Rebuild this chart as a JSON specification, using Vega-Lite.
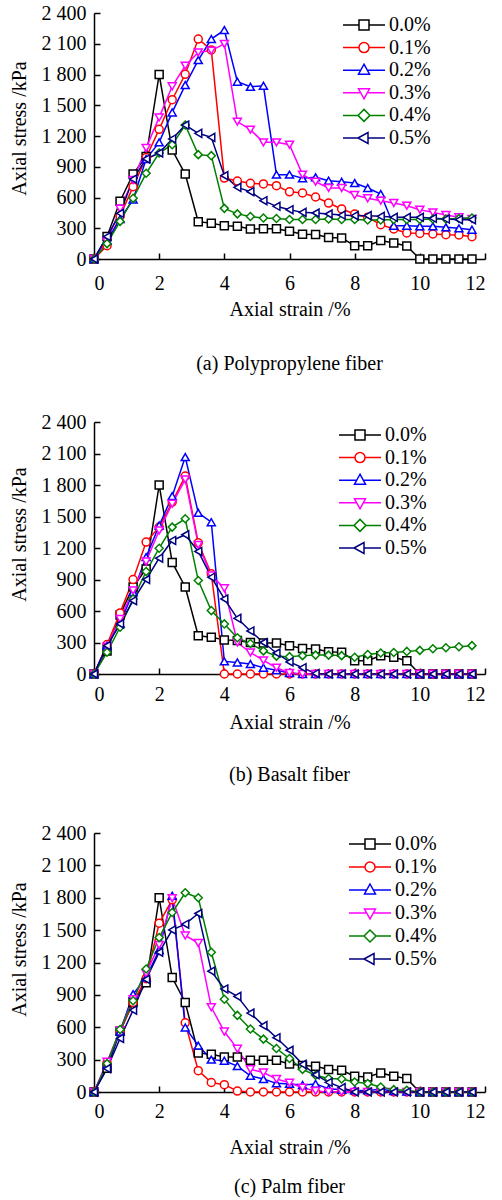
{
"$schema": "https://vega.github.io/schema/vega-lite/v6.json",
"padding": {"left": 9, "top": 3, "right": 2, "bottom": 5},
"config": {
  "font": "Liberation Serif",
  "view": {"stroke": null},
  "axis": {"labelFont": "Liberation Serif", "titleFont": "Liberation Serif", "labelFontSize": 20, "titleFontSize": 20, "titleFontWeight": "normal", "labelColor": "black", "titleColor": "black", "domainColor": "black", "tickColor": "black", "domainWidth": 1.5, "tickWidth": 1.5, "grid": false, "tickSize": -6, "labelPadding": 14},
  "legend": {"labelFont": "Liberation Serif", "labelFontSize": 20, "labelColor": "black", "labelOffset": 15, "symbolSize": 100, "symbolStrokeWidth": 1.5, "symbolFillColor": "white", "rowPadding": 2.6},
  "title": {"font": "Liberation Serif", "fontSize": 20, "fontWeight": "normal", "color": "black"}
},
"data": {"values": [
{"p":"a","c":"0.0%","x":0,"y":0},{"p":"a","c":"0.0%","x":0.4,"y":220},{"p":"a","c":"0.0%","x":0.8,"y":563},{"p":"a","c":"0.0%","x":1.2,"y":829},{"p":"a","c":"0.0%","x":1.6,"y":1000},{"p":"a","c":"0.0%","x":2,"y":1800},{"p":"a","c":"0.0%","x":2.4,"y":1063},{"p":"a","c":"0.0%","x":2.8,"y":829},{"p":"a","c":"0.0%","x":3.2,"y":364},{"p":"a","c":"0.0%","x":3.6,"y":350},{"p":"a","c":"0.0%","x":4,"y":325},{"p":"a","c":"0.0%","x":4.4,"y":320},{"p":"a","c":"0.0%","x":4.8,"y":293},{"p":"a","c":"0.0%","x":5.2,"y":295},{"p":"a","c":"0.0%","x":5.6,"y":295},{"p":"a","c":"0.0%","x":6,"y":270},{"p":"a","c":"0.0%","x":6.4,"y":242},{"p":"a","c":"0.0%","x":6.8,"y":238},{"p":"a","c":"0.0%","x":7.2,"y":210},{"p":"a","c":"0.0%","x":7.6,"y":206},{"p":"a","c":"0.0%","x":8,"y":130},{"p":"a","c":"0.0%","x":8.4,"y":130},{"p":"a","c":"0.0%","x":8.8,"y":180},{"p":"a","c":"0.0%","x":9.2,"y":157},{"p":"a","c":"0.0%","x":9.6,"y":127},{"p":"a","c":"0.0%","x":10,"y":0},{"p":"a","c":"0.0%","x":10.4,"y":0},{"p":"a","c":"0.0%","x":10.8,"y":0},{"p":"a","c":"0.0%","x":11.2,"y":0},{"p":"a","c":"0.0%","x":11.6,"y":0},
{"p":"a","c":"0.1%","x":0,"y":0},{"p":"a","c":"0.1%","x":0.4,"y":130},{"p":"a","c":"0.1%","x":0.8,"y":420},{"p":"a","c":"0.1%","x":1.2,"y":706},{"p":"a","c":"0.1%","x":1.6,"y":990},{"p":"a","c":"0.1%","x":2,"y":1265},{"p":"a","c":"0.1%","x":2.4,"y":1554},{"p":"a","c":"0.1%","x":2.8,"y":1802},{"p":"a","c":"0.1%","x":3.2,"y":2146},{"p":"a","c":"0.1%","x":3.6,"y":2040},{"p":"a","c":"0.1%","x":4,"y":790},{"p":"a","c":"0.1%","x":4.4,"y":760},{"p":"a","c":"0.1%","x":4.8,"y":738},{"p":"a","c":"0.1%","x":5.2,"y":732},{"p":"a","c":"0.1%","x":5.6,"y":715},{"p":"a","c":"0.1%","x":6,"y":655},{"p":"a","c":"0.1%","x":6.4,"y":644},{"p":"a","c":"0.1%","x":6.8,"y":605},{"p":"a","c":"0.1%","x":7.2,"y":546},{"p":"a","c":"0.1%","x":7.6,"y":488},{"p":"a","c":"0.1%","x":8,"y":439},{"p":"a","c":"0.1%","x":8.4,"y":407},{"p":"a","c":"0.1%","x":8.8,"y":335},{"p":"a","c":"0.1%","x":9.2,"y":293},{"p":"a","c":"0.1%","x":9.6,"y":254},{"p":"a","c":"0.1%","x":10,"y":250},{"p":"a","c":"0.1%","x":10.4,"y":244},{"p":"a","c":"0.1%","x":10.8,"y":237},{"p":"a","c":"0.1%","x":11.2,"y":234},{"p":"a","c":"0.1%","x":11.6,"y":218},
{"p":"a","c":"0.2%","x":0,"y":0},{"p":"a","c":"0.2%","x":0.4,"y":180},{"p":"a","c":"0.2%","x":0.8,"y":390},{"p":"a","c":"0.2%","x":1.2,"y":580},{"p":"a","c":"0.2%","x":1.6,"y":975},{"p":"a","c":"0.2%","x":2,"y":1138},{"p":"a","c":"0.2%","x":2.4,"y":1430},{"p":"a","c":"0.2%","x":2.8,"y":1697},{"p":"a","c":"0.2%","x":3.2,"y":1941},{"p":"a","c":"0.2%","x":3.6,"y":2146},{"p":"a","c":"0.2%","x":4,"y":2234},{"p":"a","c":"0.2%","x":4.4,"y":1730},{"p":"a","c":"0.2%","x":4.8,"y":1680},{"p":"a","c":"0.2%","x":5.2,"y":1690},{"p":"a","c":"0.2%","x":5.6,"y":823},{"p":"a","c":"0.2%","x":6,"y":823},{"p":"a","c":"0.2%","x":6.4,"y":787},{"p":"a","c":"0.2%","x":6.8,"y":797},{"p":"a","c":"0.2%","x":7.2,"y":764},{"p":"a","c":"0.2%","x":7.6,"y":754},{"p":"a","c":"0.2%","x":8,"y":741},{"p":"a","c":"0.2%","x":8.4,"y":693},{"p":"a","c":"0.2%","x":8.8,"y":634},{"p":"a","c":"0.2%","x":9.2,"y":325},{"p":"a","c":"0.2%","x":9.6,"y":325},{"p":"a","c":"0.2%","x":10,"y":319},{"p":"a","c":"0.2%","x":10.4,"y":319},{"p":"a","c":"0.2%","x":10.8,"y":309},{"p":"a","c":"0.2%","x":11.2,"y":299},{"p":"a","c":"0.2%","x":11.6,"y":286},
{"p":"a","c":"0.3%","x":0,"y":0},{"p":"a","c":"0.3%","x":0.4,"y":170},{"p":"a","c":"0.3%","x":0.8,"y":490},{"p":"a","c":"0.3%","x":1.2,"y":770},{"p":"a","c":"0.3%","x":1.6,"y":1083},{"p":"a","c":"0.3%","x":2,"y":1382},{"p":"a","c":"0.3%","x":2.4,"y":1685},{"p":"a","c":"0.3%","x":2.8,"y":1886},{"p":"a","c":"0.3%","x":3.2,"y":2016},{"p":"a","c":"0.3%","x":3.6,"y":2033},{"p":"a","c":"0.3%","x":4,"y":2098},{"p":"a","c":"0.3%","x":4.4,"y":1340},{"p":"a","c":"0.3%","x":4.8,"y":1262},{"p":"a","c":"0.3%","x":5.2,"y":1138},{"p":"a","c":"0.3%","x":5.6,"y":1138},{"p":"a","c":"0.3%","x":6,"y":1115},{"p":"a","c":"0.3%","x":6.4,"y":823},{"p":"a","c":"0.3%","x":6.8,"y":754},{"p":"a","c":"0.3%","x":7.2,"y":693},{"p":"a","c":"0.3%","x":7.6,"y":693},{"p":"a","c":"0.3%","x":8,"y":624},{"p":"a","c":"0.3%","x":8.4,"y":592},{"p":"a","c":"0.3%","x":8.8,"y":569},{"p":"a","c":"0.3%","x":9.2,"y":546},{"p":"a","c":"0.3%","x":9.6,"y":520},{"p":"a","c":"0.3%","x":10,"y":481},{"p":"a","c":"0.3%","x":10.4,"y":455},{"p":"a","c":"0.3%","x":10.8,"y":429},{"p":"a","c":"0.3%","x":11.2,"y":407},{"p":"a","c":"0.3%","x":11.6,"y":390},
{"p":"a","c":"0.4%","x":0,"y":0},{"p":"a","c":"0.4%","x":0.4,"y":150},{"p":"a","c":"0.4%","x":0.8,"y":367},{"p":"a","c":"0.4%","x":1.2,"y":592},{"p":"a","c":"0.4%","x":1.6,"y":836},{"p":"a","c":"0.4%","x":2,"y":1034},{"p":"a","c":"0.4%","x":2.4,"y":1115},{"p":"a","c":"0.4%","x":2.8,"y":1307},{"p":"a","c":"0.4%","x":3.2,"y":1018},{"p":"a","c":"0.4%","x":3.6,"y":1008},{"p":"a","c":"0.4%","x":4,"y":494},{"p":"a","c":"0.4%","x":4.4,"y":440},{"p":"a","c":"0.4%","x":4.8,"y":415},{"p":"a","c":"0.4%","x":5.2,"y":400},{"p":"a","c":"0.4%","x":5.6,"y":395},{"p":"a","c":"0.4%","x":6,"y":385},{"p":"a","c":"0.4%","x":6.4,"y":385},{"p":"a","c":"0.4%","x":6.8,"y":385},{"p":"a","c":"0.4%","x":7.2,"y":390},{"p":"a","c":"0.4%","x":7.6,"y":385},{"p":"a","c":"0.4%","x":8,"y":385},{"p":"a","c":"0.4%","x":8.4,"y":380},{"p":"a","c":"0.4%","x":8.8,"y":380},{"p":"a","c":"0.4%","x":9.2,"y":385},{"p":"a","c":"0.4%","x":9.6,"y":385},{"p":"a","c":"0.4%","x":10,"y":385},{"p":"a","c":"0.4%","x":10.4,"y":390},{"p":"a","c":"0.4%","x":10.8,"y":390},{"p":"a","c":"0.4%","x":11.2,"y":395},{"p":"a","c":"0.4%","x":11.6,"y":400},
{"p":"a","c":"0.5%","x":0,"y":0},{"p":"a","c":"0.5%","x":0.4,"y":218},{"p":"a","c":"0.5%","x":0.8,"y":446},{"p":"a","c":"0.5%","x":1.2,"y":780},{"p":"a","c":"0.5%","x":1.6,"y":976},{"p":"a","c":"0.5%","x":2,"y":1034},{"p":"a","c":"0.5%","x":2.4,"y":1171},{"p":"a","c":"0.5%","x":2.8,"y":1307},{"p":"a","c":"0.5%","x":3.2,"y":1226},{"p":"a","c":"0.5%","x":3.6,"y":1187},{"p":"a","c":"0.5%","x":4,"y":813},{"p":"a","c":"0.5%","x":4.4,"y":699},{"p":"a","c":"0.5%","x":4.8,"y":657},{"p":"a","c":"0.5%","x":5.2,"y":569},{"p":"a","c":"0.5%","x":5.6,"y":514},{"p":"a","c":"0.5%","x":6,"y":481},{"p":"a","c":"0.5%","x":6.4,"y":455},{"p":"a","c":"0.5%","x":6.8,"y":449},{"p":"a","c":"0.5%","x":7.2,"y":439},{"p":"a","c":"0.5%","x":7.6,"y":429},{"p":"a","c":"0.5%","x":8,"y":423},{"p":"a","c":"0.5%","x":8.4,"y":423},{"p":"a","c":"0.5%","x":8.8,"y":416},{"p":"a","c":"0.5%","x":9.2,"y":407},{"p":"a","c":"0.5%","x":9.6,"y":407},{"p":"a","c":"0.5%","x":10,"y":407},{"p":"a","c":"0.5%","x":10.4,"y":397},{"p":"a","c":"0.5%","x":10.8,"y":390},{"p":"a","c":"0.5%","x":11.2,"y":384},{"p":"a","c":"0.5%","x":11.6,"y":384},
{"p":"b","c":"0.0%","x":0,"y":0},{"p":"b","c":"0.0%","x":0.4,"y":220},{"p":"b","c":"0.0%","x":0.8,"y":563},{"p":"b","c":"0.0%","x":1.2,"y":829},{"p":"b","c":"0.0%","x":1.6,"y":1000},{"p":"b","c":"0.0%","x":2,"y":1800},{"p":"b","c":"0.0%","x":2.4,"y":1063},{"p":"b","c":"0.0%","x":2.8,"y":829},{"p":"b","c":"0.0%","x":3.2,"y":364},{"p":"b","c":"0.0%","x":3.6,"y":350},{"p":"b","c":"0.0%","x":4,"y":325},{"p":"b","c":"0.0%","x":4.4,"y":320},{"p":"b","c":"0.0%","x":4.8,"y":300},{"p":"b","c":"0.0%","x":5.2,"y":295},{"p":"b","c":"0.0%","x":5.6,"y":295},{"p":"b","c":"0.0%","x":6,"y":270},{"p":"b","c":"0.0%","x":6.4,"y":244},{"p":"b","c":"0.0%","x":6.8,"y":238},{"p":"b","c":"0.0%","x":7.2,"y":213},{"p":"b","c":"0.0%","x":7.6,"y":206},{"p":"b","c":"0.0%","x":8,"y":127},{"p":"b","c":"0.0%","x":8.4,"y":127},{"p":"b","c":"0.0%","x":8.8,"y":175},{"p":"b","c":"0.0%","x":9.2,"y":159},{"p":"b","c":"0.0%","x":9.6,"y":127},{"p":"b","c":"0.0%","x":10,"y":0},{"p":"b","c":"0.0%","x":10.4,"y":0},{"p":"b","c":"0.0%","x":10.8,"y":0},{"p":"b","c":"0.0%","x":11.2,"y":0},{"p":"b","c":"0.0%","x":11.6,"y":0},
{"p":"b","c":"0.1%","x":0,"y":0},{"p":"b","c":"0.1%","x":0.4,"y":280},{"p":"b","c":"0.1%","x":0.8,"y":582},{"p":"b","c":"0.1%","x":1.2,"y":900},{"p":"b","c":"0.1%","x":1.6,"y":1256},{"p":"b","c":"0.1%","x":2,"y":1399},{"p":"b","c":"0.1%","x":2.4,"y":1637},{"p":"b","c":"0.1%","x":2.8,"y":1885},{"p":"b","c":"0.1%","x":3.2,"y":1249},{"p":"b","c":"0.1%","x":3.6,"y":954},{"p":"b","c":"0.1%","x":4,"y":0},{"p":"b","c":"0.1%","x":4.4,"y":0},{"p":"b","c":"0.1%","x":4.8,"y":0},{"p":"b","c":"0.1%","x":5.2,"y":0},{"p":"b","c":"0.1%","x":5.6,"y":0},{"p":"b","c":"0.1%","x":6,"y":0},{"p":"b","c":"0.1%","x":6.4,"y":0},{"p":"b","c":"0.1%","x":6.8,"y":0},{"p":"b","c":"0.1%","x":7.2,"y":0},{"p":"b","c":"0.1%","x":7.6,"y":0},{"p":"b","c":"0.1%","x":8,"y":0},{"p":"b","c":"0.1%","x":8.4,"y":0},{"p":"b","c":"0.1%","x":8.8,"y":0},{"p":"b","c":"0.1%","x":9.2,"y":0},{"p":"b","c":"0.1%","x":9.6,"y":0},{"p":"b","c":"0.1%","x":10,"y":0},{"p":"b","c":"0.1%","x":10.4,"y":0},{"p":"b","c":"0.1%","x":10.8,"y":0},{"p":"b","c":"0.1%","x":11.2,"y":0},{"p":"b","c":"0.1%","x":11.6,"y":0},
{"p":"b","c":"0.2%","x":0,"y":0},{"p":"b","c":"0.2%","x":0.4,"y":270},{"p":"b","c":"0.2%","x":0.8,"y":480},{"p":"b","c":"0.2%","x":1.2,"y":780},{"p":"b","c":"0.2%","x":1.6,"y":1113},{"p":"b","c":"0.2%","x":2,"y":1415},{"p":"b","c":"0.2%","x":2.4,"y":1694},{"p":"b","c":"0.2%","x":2.8,"y":2066},{"p":"b","c":"0.2%","x":3.2,"y":1535},{"p":"b","c":"0.2%","x":3.6,"y":1446},{"p":"b","c":"0.2%","x":4,"y":120},{"p":"b","c":"0.2%","x":4.4,"y":110},{"p":"b","c":"0.2%","x":4.8,"y":95},{"p":"b","c":"0.2%","x":5.2,"y":60},{"p":"b","c":"0.2%","x":5.6,"y":35},{"p":"b","c":"0.2%","x":6,"y":10},{"p":"b","c":"0.2%","x":6.4,"y":0},{"p":"b","c":"0.2%","x":6.8,"y":0},{"p":"b","c":"0.2%","x":7.2,"y":0},{"p":"b","c":"0.2%","x":7.6,"y":0},{"p":"b","c":"0.2%","x":8,"y":0},{"p":"b","c":"0.2%","x":8.4,"y":0},{"p":"b","c":"0.2%","x":8.8,"y":0},{"p":"b","c":"0.2%","x":9.2,"y":0},{"p":"b","c":"0.2%","x":9.6,"y":0},{"p":"b","c":"0.2%","x":10,"y":0},{"p":"b","c":"0.2%","x":10.4,"y":0},{"p":"b","c":"0.2%","x":10.8,"y":0},{"p":"b","c":"0.2%","x":11.2,"y":0},{"p":"b","c":"0.2%","x":11.6,"y":0},
{"p":"b","c":"0.3%","x":0,"y":0},{"p":"b","c":"0.3%","x":0.4,"y":260},{"p":"b","c":"0.3%","x":0.8,"y":525},{"p":"b","c":"0.3%","x":1.2,"y":795},{"p":"b","c":"0.3%","x":1.6,"y":1071},{"p":"b","c":"0.3%","x":2,"y":1367},{"p":"b","c":"0.3%","x":2.4,"y":1621},{"p":"b","c":"0.3%","x":2.8,"y":1853},{"p":"b","c":"0.3%","x":3.2,"y":1230},{"p":"b","c":"0.3%","x":3.6,"y":938},{"p":"b","c":"0.3%","x":4,"y":817},{"p":"b","c":"0.3%","x":4.4,"y":300},{"p":"b","c":"0.3%","x":4.8,"y":205},{"p":"b","c":"0.3%","x":5.2,"y":130},{"p":"b","c":"0.3%","x":5.6,"y":60},{"p":"b","c":"0.3%","x":6,"y":10},{"p":"b","c":"0.3%","x":6.4,"y":0},{"p":"b","c":"0.3%","x":6.8,"y":0},{"p":"b","c":"0.3%","x":7.2,"y":0},{"p":"b","c":"0.3%","x":7.6,"y":0},{"p":"b","c":"0.3%","x":8,"y":0},{"p":"b","c":"0.3%","x":8.4,"y":0},{"p":"b","c":"0.3%","x":8.8,"y":0},{"p":"b","c":"0.3%","x":9.2,"y":0},{"p":"b","c":"0.3%","x":9.6,"y":0},{"p":"b","c":"0.3%","x":10,"y":0},{"p":"b","c":"0.3%","x":10.4,"y":0},{"p":"b","c":"0.3%","x":10.8,"y":0},{"p":"b","c":"0.3%","x":11.2,"y":0},{"p":"b","c":"0.3%","x":11.6,"y":0},
{"p":"b","c":"0.4%","x":0,"y":0},{"p":"b","c":"0.4%","x":0.4,"y":207},{"p":"b","c":"0.4%","x":0.8,"y":445},{"p":"b","c":"0.4%","x":1.2,"y":715},{"p":"b","c":"0.4%","x":1.6,"y":976},{"p":"b","c":"0.4%","x":2,"y":1198},{"p":"b","c":"0.4%","x":2.4,"y":1399},{"p":"b","c":"0.4%","x":2.8,"y":1478},{"p":"b","c":"0.4%","x":3.2,"y":890},{"p":"b","c":"0.4%","x":3.6,"y":604},{"p":"b","c":"0.4%","x":4,"y":477},{"p":"b","c":"0.4%","x":4.4,"y":345},{"p":"b","c":"0.4%","x":4.8,"y":290},{"p":"b","c":"0.4%","x":5.2,"y":220},{"p":"b","c":"0.4%","x":5.6,"y":170},{"p":"b","c":"0.4%","x":6,"y":165},{"p":"b","c":"0.4%","x":6.4,"y":175},{"p":"b","c":"0.4%","x":6.8,"y":180},{"p":"b","c":"0.4%","x":7.2,"y":180},{"p":"b","c":"0.4%","x":7.6,"y":175},{"p":"b","c":"0.4%","x":8,"y":160},{"p":"b","c":"0.4%","x":8.4,"y":185},{"p":"b","c":"0.4%","x":8.8,"y":200},{"p":"b","c":"0.4%","x":9.2,"y":205},{"p":"b","c":"0.4%","x":9.6,"y":215},{"p":"b","c":"0.4%","x":10,"y":225},{"p":"b","c":"0.4%","x":10.4,"y":240},{"p":"b","c":"0.4%","x":10.8,"y":250},{"p":"b","c":"0.4%","x":11.2,"y":260},{"p":"b","c":"0.4%","x":11.6,"y":270},
{"p":"b","c":"0.5%","x":0,"y":0},{"p":"b","c":"0.5%","x":0.4,"y":270},{"p":"b","c":"0.5%","x":0.8,"y":477},{"p":"b","c":"0.5%","x":1.2,"y":699},{"p":"b","c":"0.5%","x":1.6,"y":900},{"p":"b","c":"0.5%","x":2,"y":1103},{"p":"b","c":"0.5%","x":2.4,"y":1272},{"p":"b","c":"0.5%","x":2.8,"y":1326},{"p":"b","c":"0.5%","x":3.2,"y":1167},{"p":"b","c":"0.5%","x":3.6,"y":922},{"p":"b","c":"0.5%","x":4,"y":715},{"p":"b","c":"0.5%","x":4.4,"y":530},{"p":"b","c":"0.5%","x":4.8,"y":410},{"p":"b","c":"0.5%","x":5.2,"y":300},{"p":"b","c":"0.5%","x":5.6,"y":200},{"p":"b","c":"0.5%","x":6,"y":115},{"p":"b","c":"0.5%","x":6.4,"y":60},{"p":"b","c":"0.5%","x":6.8,"y":5},{"p":"b","c":"0.5%","x":7.2,"y":0},{"p":"b","c":"0.5%","x":7.6,"y":0},{"p":"b","c":"0.5%","x":8,"y":0},{"p":"b","c":"0.5%","x":8.4,"y":0},{"p":"b","c":"0.5%","x":8.8,"y":0},{"p":"b","c":"0.5%","x":9.2,"y":0},{"p":"b","c":"0.5%","x":9.6,"y":0},{"p":"b","c":"0.5%","x":10,"y":0},{"p":"b","c":"0.5%","x":10.4,"y":0},{"p":"b","c":"0.5%","x":10.8,"y":0},{"p":"b","c":"0.5%","x":11.2,"y":0},{"p":"b","c":"0.5%","x":11.6,"y":0},
{"p":"c","c":"0.0%","x":0,"y":0},{"p":"c","c":"0.0%","x":0.4,"y":220},{"p":"c","c":"0.0%","x":0.8,"y":563},{"p":"c","c":"0.0%","x":1.2,"y":829},{"p":"c","c":"0.0%","x":1.6,"y":1012},{"p":"c","c":"0.0%","x":2,"y":1800},{"p":"c","c":"0.0%","x":2.4,"y":1060},{"p":"c","c":"0.0%","x":2.8,"y":830},{"p":"c","c":"0.0%","x":3.2,"y":362},{"p":"c","c":"0.0%","x":3.6,"y":350},{"p":"c","c":"0.0%","x":4,"y":325},{"p":"c","c":"0.0%","x":4.4,"y":325},{"p":"c","c":"0.0%","x":4.8,"y":294},{"p":"c","c":"0.0%","x":5.2,"y":294},{"p":"c","c":"0.0%","x":5.6,"y":294},{"p":"c","c":"0.0%","x":6,"y":260},{"p":"c","c":"0.0%","x":6.4,"y":245},{"p":"c","c":"0.0%","x":6.8,"y":239},{"p":"c","c":"0.0%","x":7.2,"y":208},{"p":"c","c":"0.0%","x":7.6,"y":201},{"p":"c","c":"0.0%","x":8,"y":146},{"p":"c","c":"0.0%","x":8.4,"y":139},{"p":"c","c":"0.0%","x":8.8,"y":177},{"p":"c","c":"0.0%","x":9.2,"y":146},{"p":"c","c":"0.0%","x":9.6,"y":124},{"p":"c","c":"0.0%","x":10,"y":0},{"p":"c","c":"0.0%","x":10.4,"y":0},{"p":"c","c":"0.0%","x":10.8,"y":0},{"p":"c","c":"0.0%","x":11.2,"y":0},{"p":"c","c":"0.0%","x":11.6,"y":0},
{"p":"c","c":"0.1%","x":0,"y":0},{"p":"c","c":"0.1%","x":0.4,"y":270},{"p":"c","c":"0.1%","x":0.8,"y":560},{"p":"c","c":"0.1%","x":1.2,"y":830},{"p":"c","c":"0.1%","x":1.6,"y":1050},{"p":"c","c":"0.1%","x":2,"y":1564},{"p":"c","c":"0.1%","x":2.4,"y":1781},{"p":"c","c":"0.1%","x":2.8,"y":641},{"p":"c","c":"0.1%","x":3.2,"y":198},{"p":"c","c":"0.1%","x":3.6,"y":88},{"p":"c","c":"0.1%","x":4,"y":68},{"p":"c","c":"0.1%","x":4.4,"y":9},{"p":"c","c":"0.1%","x":4.8,"y":0},{"p":"c","c":"0.1%","x":5.2,"y":0},{"p":"c","c":"0.1%","x":5.6,"y":0},{"p":"c","c":"0.1%","x":6,"y":0},{"p":"c","c":"0.1%","x":6.4,"y":0},{"p":"c","c":"0.1%","x":6.8,"y":0},{"p":"c","c":"0.1%","x":7.2,"y":0},{"p":"c","c":"0.1%","x":7.6,"y":0},{"p":"c","c":"0.1%","x":8,"y":0},{"p":"c","c":"0.1%","x":8.4,"y":0},{"p":"c","c":"0.1%","x":8.8,"y":0},{"p":"c","c":"0.1%","x":9.2,"y":0},{"p":"c","c":"0.1%","x":9.6,"y":0},{"p":"c","c":"0.1%","x":10,"y":0},{"p":"c","c":"0.1%","x":10.4,"y":0},{"p":"c","c":"0.1%","x":10.8,"y":0},{"p":"c","c":"0.1%","x":11.2,"y":0},{"p":"c","c":"0.1%","x":11.6,"y":0},
{"p":"c","c":"0.2%","x":0,"y":0},{"p":"c","c":"0.2%","x":0.4,"y":250},{"p":"c","c":"0.2%","x":0.8,"y":560},{"p":"c","c":"0.2%","x":1.2,"y":907},{"p":"c","c":"0.2%","x":1.6,"y":1060},{"p":"c","c":"0.2%","x":2,"y":1316},{"p":"c","c":"0.2%","x":2.4,"y":1818},{"p":"c","c":"0.2%","x":2.8,"y":598},{"p":"c","c":"0.2%","x":3.2,"y":430},{"p":"c","c":"0.2%","x":3.6,"y":300},{"p":"c","c":"0.2%","x":4,"y":290},{"p":"c","c":"0.2%","x":4.4,"y":240},{"p":"c","c":"0.2%","x":4.8,"y":150},{"p":"c","c":"0.2%","x":5.2,"y":120},{"p":"c","c":"0.2%","x":5.6,"y":80},{"p":"c","c":"0.2%","x":6,"y":75},{"p":"c","c":"0.2%","x":6.4,"y":65},{"p":"c","c":"0.2%","x":6.8,"y":75},{"p":"c","c":"0.2%","x":7.2,"y":30},{"p":"c","c":"0.2%","x":7.6,"y":20},{"p":"c","c":"0.2%","x":8,"y":15},{"p":"c","c":"0.2%","x":8.4,"y":15},{"p":"c","c":"0.2%","x":8.8,"y":25},{"p":"c","c":"0.2%","x":9.2,"y":10},{"p":"c","c":"0.2%","x":9.6,"y":5},{"p":"c","c":"0.2%","x":10,"y":0},{"p":"c","c":"0.2%","x":10.4,"y":0},{"p":"c","c":"0.2%","x":10.8,"y":0},{"p":"c","c":"0.2%","x":11.2,"y":0},{"p":"c","c":"0.2%","x":11.6,"y":0},
{"p":"c","c":"0.3%","x":0,"y":0},{"p":"c","c":"0.3%","x":0.4,"y":280},{"p":"c","c":"0.3%","x":0.8,"y":570},{"p":"c","c":"0.3%","x":1.2,"y":860},{"p":"c","c":"0.3%","x":1.6,"y":1100},{"p":"c","c":"0.3%","x":2,"y":1363},{"p":"c","c":"0.3%","x":2.4,"y":1796},{"p":"c","c":"0.3%","x":2.8,"y":1450},{"p":"c","c":"0.3%","x":3.2,"y":1380},{"p":"c","c":"0.3%","x":3.6,"y":785},{"p":"c","c":"0.3%","x":4,"y":560},{"p":"c","c":"0.3%","x":4.4,"y":400},{"p":"c","c":"0.3%","x":4.8,"y":210},{"p":"c","c":"0.3%","x":5.2,"y":180},{"p":"c","c":"0.3%","x":5.6,"y":120},{"p":"c","c":"0.3%","x":6,"y":85},{"p":"c","c":"0.3%","x":6.4,"y":40},{"p":"c","c":"0.3%","x":6.8,"y":10},{"p":"c","c":"0.3%","x":7.2,"y":0},{"p":"c","c":"0.3%","x":7.6,"y":0},{"p":"c","c":"0.3%","x":8,"y":0},{"p":"c","c":"0.3%","x":8.4,"y":0},{"p":"c","c":"0.3%","x":8.8,"y":0},{"p":"c","c":"0.3%","x":9.2,"y":0},{"p":"c","c":"0.3%","x":9.6,"y":0},{"p":"c","c":"0.3%","x":10,"y":0},{"p":"c","c":"0.3%","x":10.4,"y":0},{"p":"c","c":"0.3%","x":10.8,"y":0},{"p":"c","c":"0.3%","x":11.2,"y":0},{"p":"c","c":"0.3%","x":11.6,"y":0},
{"p":"c","c":"0.4%","x":0,"y":0},{"p":"c","c":"0.4%","x":0.4,"y":263},{"p":"c","c":"0.4%","x":0.8,"y":579},{"p":"c","c":"0.4%","x":1.2,"y":845},{"p":"c","c":"0.4%","x":1.6,"y":1140},{"p":"c","c":"0.4%","x":2,"y":1431},{"p":"c","c":"0.4%","x":2.4,"y":1663},{"p":"c","c":"0.4%","x":2.8,"y":1846},{"p":"c","c":"0.4%","x":3.2,"y":1800},{"p":"c","c":"0.4%","x":3.6,"y":1295},{"p":"c","c":"0.4%","x":4,"y":860},{"p":"c","c":"0.4%","x":4.4,"y":710},{"p":"c","c":"0.4%","x":4.8,"y":584},{"p":"c","c":"0.4%","x":5.2,"y":490},{"p":"c","c":"0.4%","x":5.6,"y":403},{"p":"c","c":"0.4%","x":6,"y":310},{"p":"c","c":"0.4%","x":6.4,"y":210},{"p":"c","c":"0.4%","x":6.8,"y":155},{"p":"c","c":"0.4%","x":7.2,"y":125},{"p":"c","c":"0.4%","x":7.6,"y":120},{"p":"c","c":"0.4%","x":8,"y":93},{"p":"c","c":"0.4%","x":8.4,"y":78},{"p":"c","c":"0.4%","x":8.8,"y":46},{"p":"c","c":"0.4%","x":9.2,"y":22},{"p":"c","c":"0.4%","x":9.6,"y":16},{"p":"c","c":"0.4%","x":10,"y":0},{"p":"c","c":"0.4%","x":10.4,"y":0},{"p":"c","c":"0.4%","x":10.8,"y":0},{"p":"c","c":"0.4%","x":11.2,"y":0},{"p":"c","c":"0.4%","x":11.6,"y":0},
{"p":"c","c":"0.5%","x":0,"y":0},{"p":"c","c":"0.5%","x":0.4,"y":217},{"p":"c","c":"0.5%","x":0.8,"y":496},{"p":"c","c":"0.5%","x":1.2,"y":759},{"p":"c","c":"0.5%","x":1.6,"y":1044},{"p":"c","c":"0.5%","x":2,"y":1295},{"p":"c","c":"0.5%","x":2.4,"y":1502},{"p":"c","c":"0.5%","x":2.8,"y":1555},{"p":"c","c":"0.5%","x":3.2,"y":1654},{"p":"c","c":"0.5%","x":3.6,"y":1120},{"p":"c","c":"0.5%","x":4,"y":955},{"p":"c","c":"0.5%","x":4.4,"y":886},{"p":"c","c":"0.5%","x":4.8,"y":731},{"p":"c","c":"0.5%","x":5.2,"y":615},{"p":"c","c":"0.5%","x":5.6,"y":503},{"p":"c","c":"0.5%","x":6,"y":387},{"p":"c","c":"0.5%","x":6.4,"y":256},{"p":"c","c":"0.5%","x":6.8,"y":160},{"p":"c","c":"0.5%","x":7.2,"y":90},{"p":"c","c":"0.5%","x":7.6,"y":41},{"p":"c","c":"0.5%","x":8,"y":0},{"p":"c","c":"0.5%","x":8.4,"y":0},{"p":"c","c":"0.5%","x":8.8,"y":0},{"p":"c","c":"0.5%","x":9.2,"y":0},{"p":"c","c":"0.5%","x":9.6,"y":0},{"p":"c","c":"0.5%","x":10,"y":0},{"p":"c","c":"0.5%","x":10.4,"y":0},{"p":"c","c":"0.5%","x":10.8,"y":0},{"p":"c","c":"0.5%","x":11.2,"y":0},{"p":"c","c":"0.5%","x":11.6,"y":0}
]},
"spacing": 38,
"vconcat": [
{
  "width": 391, "height": 246,
  "title": {"text": "(a) Polypropylene fiber", "orient": "bottom", "offset": 35},
  "transform": [{"filter": "datum.p === 'a'"}],
  "encoding": {
    "x": {"field": "x", "type": "quantitative", "scale": {"domain": [0, 12], "nice": false}, "axis": {"values": [0,2,4,6,8,10,12], "title": "Axial strain /%", "labelPadding": 20, "titlePadding": 6}},
    "y": {"field": "y", "type": "quantitative", "scale": {"domain": [0, 2400], "nice": false}, "axis": {"values": [0,300,600,900,1200,1500,1800,2100,2400], "labelExpr": "replace(format(datum.value, ','), ',', ' ')", "title": "Axial stress /kPa", "titlePadding": 12, "titleY": 115}},
    "color": {"field": "c", "type": "nominal", "scale": {"domain": ["0.0%","0.1%","0.2%","0.3%","0.4%","0.5%"], "range": ["#000000","#FF0000","#0000FF","#FF00FF","#008000","#000080"]}, "legend": null}
  },
  "layer": [
    {"mark": {"type": "line", "strokeWidth": 1.5}, "encoding": {"detail": {"field": "c"}}},
    {"mark": {"type": "point", "filled": false, "fill": "white", "strokeWidth": 1.5, "size": 64, "opacity": 1},
     "encoding": {"shape": {"field": "c", "type": "nominal", "scale": {"domain": ["0.0%","0.1%","0.2%","0.3%","0.4%","0.5%"], "range": ["square","circle","triangle-up","triangle-down","diamond","triangle-left"]}, "legend": null}}},
    {"transform": [{"filter": "datum.x < 0"}],
     "mark": {"type": "point", "filled": false, "fill": "white", "strokeWidth": 1.5, "opacity": 1},
     "encoding": {
       "color": {"field": "c", "type": "nominal", "scale": {"domain": ["0.0%","0.1%","0.2%","0.3%","0.4%","0.5%"], "range": ["#000000","#FF0000","#0000FF","#FF00FF","#008000","#000080"]}, "legend": {"title": null, "orient": "none", "legendX": 260, "legendY": 2}},
       "shape": {"field": "c", "type": "nominal", "scale": {"domain": ["0.0%","0.1%","0.2%","0.3%","0.4%","0.5%"], "range": ["M-4.2,0H-1M1,0H4.2M-1,-1H1V1H-1Z","M-4.2,0H-1M1,0H4.2M1,0A1,1,0,1,1,-1,0A1,1,0,1,1,1,0Z","M-4.2,0H-0.66M0.66,0H4.2M0,-1.2L1.1,0.8H-1.1Z","M-4.2,0H-0.66M0.66,0H4.2M0,1.2L1.1,-0.8H-1.1Z","M-4.2,0H-1.2M1.2,0H4.2M0,-1.2L1.2,0L0,1.2L-1.2,0Z","M-4.2,0H-1.2M0.8,0H4.2M-1.2,0L0.8,-1.1V1.1Z"]},
       "legend": {"title": null, "orient": "none", "legendX": 260, "legendY": 2}}}}
  ],
  "resolve": {"scale": {"shape": "independent", "color": "independent"}, "legend": {"shape": "independent", "color": "independent"}}
},
{
  "width": 391, "height": 252,
  "title": {"text": "(b) Basalt fiber", "orient": "bottom", "offset": 33},
  "transform": [{"filter": "datum.p === 'b'"}],
  "encoding": {
    "x": {"field": "x", "type": "quantitative", "scale": {"domain": [0, 12], "nice": false}, "axis": {"values": [0,2,4,6,8,10,12], "title": "Axial strain /%", "labelPadding": 16, "titlePadding": 8}},
    "y": {"field": "y", "type": "quantitative", "scale": {"domain": [0, 2400], "nice": false}, "axis": {"values": [0,300,600,900,1200,1500,1800,2100,2400], "labelExpr": "replace(format(datum.value, ','), ',', ' ')", "title": "Axial stress /kPa", "titlePadding": 12, "titleY": 112}},
    "color": {"field": "c", "type": "nominal", "scale": {"domain": ["0.0%","0.1%","0.2%","0.3%","0.4%","0.5%"], "range": ["#000000","#FF0000","#0000FF","#FF00FF","#008000","#000080"]}, "legend": null}
  },
  "layer": [
    {"mark": {"type": "line", "strokeWidth": 1.5}, "encoding": {"detail": {"field": "c"}}},
    {"mark": {"type": "point", "filled": false, "fill": "white", "strokeWidth": 1.5, "size": 64, "opacity": 1},
     "encoding": {"shape": {"field": "c", "type": "nominal", "scale": {"domain": ["0.0%","0.1%","0.2%","0.3%","0.4%","0.5%"], "range": ["square","circle","triangle-up","triangle-down","diamond","triangle-left"]}, "legend": null}}},
    {"transform": [{"filter": "datum.x < 0"}],
     "mark": {"type": "point", "filled": false, "fill": "white", "strokeWidth": 1.5, "opacity": 1},
     "encoding": {
       "color": {"field": "c", "type": "nominal", "scale": {"domain": ["0.0%","0.1%","0.2%","0.3%","0.4%","0.5%"], "range": ["#000000","#FF0000","#0000FF","#FF00FF","#008000","#000080"]}, "legend": {"title": null, "orient": "none", "legendX": 256, "legendY": 3}},
       "shape": {"field": "c", "type": "nominal", "scale": {"domain": ["0.0%","0.1%","0.2%","0.3%","0.4%","0.5%"], "range": ["M-4.2,0H-1M1,0H4.2M-1,-1H1V1H-1Z","M-4.2,0H-1M1,0H4.2M1,0A1,1,0,1,1,-1,0A1,1,0,1,1,1,0Z","M-4.2,0H-0.66M0.66,0H4.2M0,-1.2L1.1,0.8H-1.1Z","M-4.2,0H-0.66M0.66,0H4.2M0,1.2L1.1,-0.8H-1.1Z","M-4.2,0H-1.2M1.2,0H4.2M0,-1.2L1.2,0L0,1.2L-1.2,0Z","M-4.2,0H-1.2M0.8,0H4.2M-1.2,0L0.8,-1.1V1.1Z"]},
       "legend": {"title": null, "orient": "none", "legendX": 256, "legendY": 3}}}}
  ],
  "resolve": {"scale": {"shape": "independent", "color": "independent"}, "legend": {"shape": "independent", "color": "independent"}}
},
{
  "width": 391, "height": 259,
  "title": {"text": "(c) Palm fiber", "orient": "bottom", "offset": 20},
  "transform": [{"filter": "datum.p === 'c'"}],
  "encoding": {
    "x": {"field": "x", "type": "quantitative", "scale": {"domain": [0, 12], "nice": false}, "axis": {"values": [0,2,4,6,8,10,12], "title": "Axial strain /%", "labelPadding": 15, "titlePadding": 16}},
    "y": {"field": "y", "type": "quantitative", "scale": {"domain": [0, 2400], "nice": false}, "axis": {"values": [0,300,600,900,1200,1500,1800,2100,2400], "labelExpr": "replace(format(datum.value, ','), ',', ' ')", "title": "Axial stress /kPa", "titlePadding": 12, "titleY": 116}},
    "color": {"field": "c", "type": "nominal", "scale": {"domain": ["0.0%","0.1%","0.2%","0.3%","0.4%","0.5%"], "range": ["#000000","#FF0000","#0000FF","#FF00FF","#008000","#000080"]}, "legend": null}
  },
  "layer": [
    {"mark": {"type": "line", "strokeWidth": 1.5}, "encoding": {"detail": {"field": "c"}}},
    {"mark": {"type": "point", "filled": false, "fill": "white", "strokeWidth": 1.5, "size": 64, "opacity": 1},
     "encoding": {"shape": {"field": "c", "type": "nominal", "scale": {"domain": ["0.0%","0.1%","0.2%","0.3%","0.4%","0.5%"], "range": ["square","circle","triangle-up","triangle-down","diamond","triangle-left"]}, "legend": null}}},
    {"transform": [{"filter": "datum.x < 0"}],
     "mark": {"type": "point", "filled": false, "fill": "white", "strokeWidth": 1.5, "opacity": 1},
     "encoding": {
       "color": {"field": "c", "type": "nominal", "scale": {"domain": ["0.0%","0.1%","0.2%","0.3%","0.4%","0.5%"], "range": ["#000000","#FF0000","#0000FF","#FF00FF","#008000","#000080"]}, "legend": {"title": null, "orient": "none", "legendX": 266, "legendY": 1, "rowPadding": 3}},
       "shape": {"field": "c", "type": "nominal", "scale": {"domain": ["0.0%","0.1%","0.2%","0.3%","0.4%","0.5%"], "range": ["M-4.2,0H-1M1,0H4.2M-1,-1H1V1H-1Z","M-4.2,0H-1M1,0H4.2M1,0A1,1,0,1,1,-1,0A1,1,0,1,1,1,0Z","M-4.2,0H-0.66M0.66,0H4.2M0,-1.2L1.1,0.8H-1.1Z","M-4.2,0H-0.66M0.66,0H4.2M0,1.2L1.1,-0.8H-1.1Z","M-4.2,0H-1.2M1.2,0H4.2M0,-1.2L1.2,0L0,1.2L-1.2,0Z","M-4.2,0H-1.2M0.8,0H4.2M-1.2,0L0.8,-1.1V1.1Z"]},
       "legend": {"title": null, "orient": "none", "legendX": 266, "legendY": 1, "rowPadding": 3}}}}
  ],
  "resolve": {"scale": {"shape": "independent", "color": "independent"}, "legend": {"shape": "independent", "color": "independent"}}
}
],
"resolve": {"scale": {"color": "independent", "shape": "independent"}, "legend": {"color": "independent", "shape": "independent"}}
}
